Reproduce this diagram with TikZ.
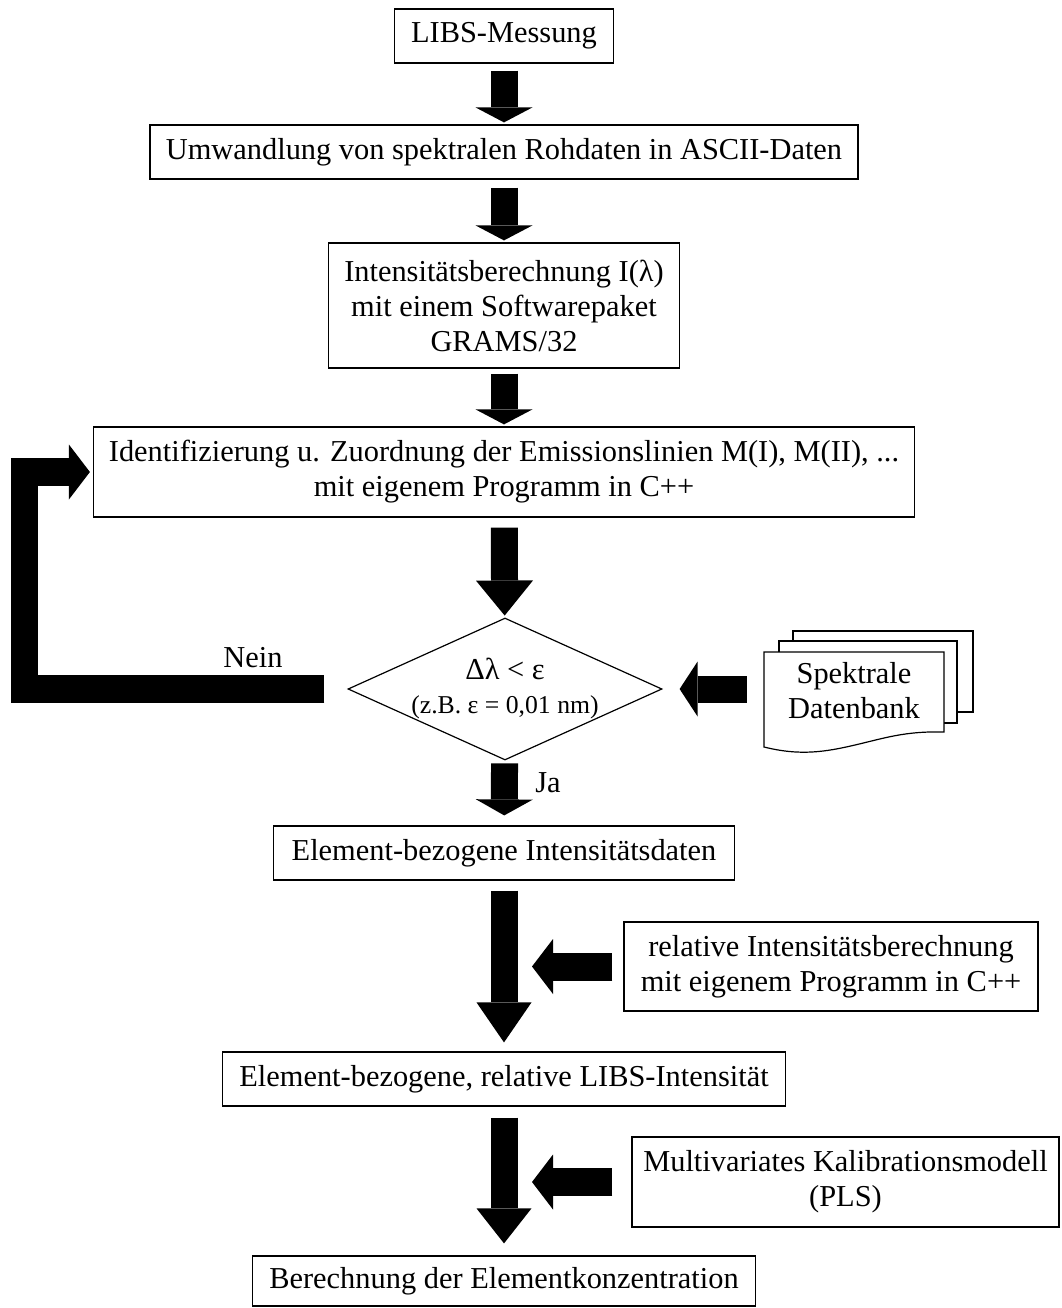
\documentclass[tikz,border=0pt]{standalone}
\usepackage{fontspec}
\setmainfont{Liberation Serif}
\usetikzlibrary{shapes.geometric,arrows.meta}
\newcommand{\mainsize}{\fontsize{30.4pt}{35pt}\selectfont}
\newcommand{\notesize}{\fontsize{25.7pt}{31pt}\selectfont}

\begin{document}
\begin{tikzpicture}[x=1pt,y=-1pt,every node/.style={font=\mainsize},
  box/.style={draw,line width=1.2pt,align=center,inner sep=0pt},
  blockarrow/.style n args={2}{line width=27pt,-{Triangle[width=#1,length=#2,line width=0pt]}},
  docline/.style={draw,line width=1.2pt,fill=white}]
  \useasboundingbox (0,0) rectangle (1061,1308);
  \node[box,minimum width=219pt,minimum height=54pt] (lm) at (504,36) {LIBS-Messung};
  \node[box,minimum width=708pt,minimum height=54pt] (conv) at (504,152)
    {Umwandlung von spektralen Rohdaten in ASCII-Daten};
  \node[box,minimum width=351pt,minimum height=125pt] (inten) at (504,305.5)
    {Intensitätsberechnung I(λ)\\mit einem Softwarepaket\\GRAMS/32};
  \node[box,minimum width=821pt,minimum height=90pt] (ident) at (504,472)
    {Identifizierung u. Zuordnung der Emissionslinien M(I), M(II), ...\\mit eigenem Programm in C++};
  \node[draw,line width=1.2pt,diamond,aspect=2.2,inner sep=-6pt,align=center,
    minimum width=314pt,minimum height=142pt] (dec) at (505,689)
    {Δλ < ε\\[-1pt]\notesize (z.B. ε = 0,01 nm)};
  \node[box,minimum width=461pt,minimum height=54pt] (elem) at (504,853)
    {Element-bezogene Intensitätsdaten};
  \node[box,minimum width=414pt,minimum height=89pt] (relint) at (831,966.5)
    {relative Intensitätsberechnung\\mit eigenem Programm in C++};
  \node[box,minimum width=563pt,minimum height=54pt] (elemrel) at (504,1079)
    {Element-bezogene, relative LIBS-Intensität};
  \node[box,minimum width=427pt,minimum height=90pt] (pls) at (845.5,1182)
    {Multivariates Kalibrationsmodell\\(PLS)};
  \node[box,minimum width=503pt,minimum height=50pt] (conc) at (504,1281)
    {Berechnung der Elementkonzentration};

  \draw[docline] (793,631) rectangle (973,712);
  \draw[docline] (779,641) rectangle (957,723);
  \draw[docline] (764,652) -- (944,652) -- (944,732)
    .. controls (905,731) and (885,738) .. (855,745)
    .. controls (825,752) and (800,756) .. (764,747) -- cycle;
  \node[align=center,inner sep=0pt,minimum width=180pt] (db) at (854,691) {Spektrale\\Datenbank};

  \node (nein) at (253,658) {Nein};
  \node (ja) at (548,783) {Ja};

  \draw[blockarrow={57pt}{15pt},shorten <=7pt,shorten >=2pt] (lm) -- (conv);
  \draw[blockarrow={57pt}{15pt},shorten <=8pt,shorten >=2pt] (conv) -- (inten);
  \draw[blockarrow={57pt}{15pt},shorten <=5pt,shorten >=2pt] (inten) -- (ident);
  \draw[blockarrow={57pt}{35pt},shorten <=10pt,shorten >=2pt] (ident) -- (dec);
  \draw[blockarrow={57pt}{16pt},shorten <=3pt,shorten >=10pt] (dec) -- (elem);
  \draw[blockarrow={55pt}{40pt},shorten <=10pt,shorten >=9pt] (elem) -- (elemrel);
  \draw[blockarrow={55pt}{35pt},shorten <=11pt,shorten >=12pt] (elemrel) -- (conc);

  \coordinate (j1) at (532,966.5);
  \coordinate (j2) at (532,1182);
  \draw[blockarrow={55pt}{21pt},line width=28pt,shorten <=11pt] (relint.west) -- (j1);
  \draw[blockarrow={55pt}{21pt},line width=28pt,shorten <=19pt] (pls.west) -- (j2);
  \draw[blockarrow={55pt}{18pt},shorten <=17pt,shorten >=17pt] (db.west |- dec.east) -- (dec.east);
  \draw[blockarrow={55pt}{21pt},line width=27.5pt]
    ([xshift=-23pt]dec.west) -| ([xshift=-68.5pt]ident.west) -- ([xshift=-3pt]ident.west);
\end{tikzpicture}
\end{document}
